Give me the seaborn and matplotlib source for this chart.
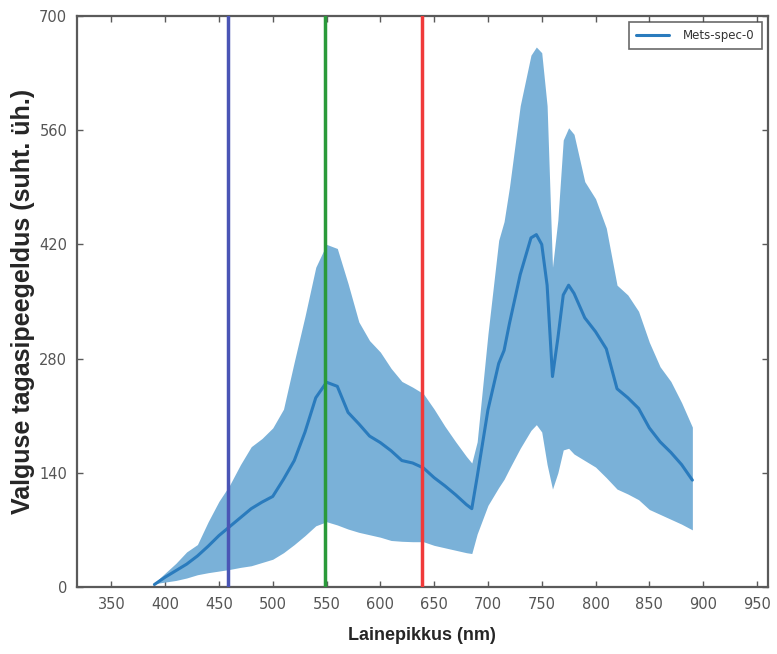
import matplotlib
matplotlib.use("Agg")
import matplotlib.pyplot as plt
import seaborn as sns
import pandas as pd

# Wavelength grid (nm) and reflectance statistics (relative units)
wavelength = [390, 400, 410, 420, 430, 440, 450, 460, 470, 480, 490, 500, 510, 520,
              530, 540, 550, 560, 570, 580, 590, 600, 610, 620, 630, 640, 650, 660,
              670, 680, 685, 690, 700, 710, 715, 720, 730, 740, 745, 750, 755, 760,
              765, 770, 775, 780, 790, 800, 810, 820, 830, 840, 850, 860, 870, 880, 890]
mean_refl = [3, 12, 20, 28, 38, 50, 63, 74, 85, 96, 104, 111, 132, 155,
             190, 232, 251, 246, 214, 200, 185, 177, 167, 155, 152, 146, 134, 124,
             113, 101, 96, 135, 217, 274, 290, 323, 383, 428, 432, 420, 370, 258,
             305, 358, 370, 360, 330, 313, 292, 243, 232, 219, 195, 178, 165, 150, 131]
upper_refl = [5, 17, 29, 43, 52, 80, 105, 125, 150, 172, 182, 195, 218, 276,
              332, 392, 420, 415, 372, 325, 302, 288, 268, 252, 245, 237, 218, 197,
              178, 160, 152, 178, 310, 425, 448, 490, 590, 652, 662, 655, 590, 392,
              450, 548, 563, 555, 497, 476, 440, 370, 358, 338, 300, 270, 252, 226, 196]
lower_refl = [4, 6, 8, 11, 15, 17.5, 19.5, 21.5, 24, 26, 30, 34, 42, 52,
              63, 75, 80, 76, 71, 67, 64, 61, 57, 56, 55.5, 55.5, 51, 48,
              45, 42, 41, 65, 100, 122, 132, 145, 170, 192, 199, 190, 150, 120,
              140, 168, 170, 163, 155, 147, 134, 120, 114, 107, 95, 89, 83, 77, 70]

# Band markers (nm)
band_lines = [458, 549, 639]
band_colors = ["#4a55b5", "#2a9a3a", "#f03a3a"]

series_name = "Mets-spec-0"

df = pd.DataFrame({"wavelength": wavelength, "mean": mean_refl,
                   "upper": upper_refl, "lower": lower_refl,
                   "series": series_name})

sns.set_style("ticks")
plt.rcParams["font.family"] = ["DejaVu Sans"]

fig = plt.figure(figsize=(7.77, 6.54), dpi=100)
ax = fig.add_axes([0.099, 0.1025, 0.889, 0.873])

ax.fill_between(df["wavelength"], df["lower"], df["upper"],
                color="#7ab1d8", alpha=1.0, linewidth=0, zorder=1)
sns.lineplot(data=df, x="wavelength", y="mean", hue="series",
             palette=["#2a7bbd"], linewidth=2.2, ax=ax, zorder=2)

for x, c in zip(band_lines, band_colors):
    ax.axvline(x, color=c, linewidth=2.5, zorder=3)

ax.set_xlim(318, 960)
ax.set_ylim(0, 700)
ax.set_xticks(list(range(350, 951, 50)))
ax.set_yticks([0, 140, 280, 420, 560, 700])

spine_color = "#5a5a5a"
for s in ax.spines.values():
    s.set_color(spine_color)
    s.set_linewidth(1.6)
ax.tick_params(direction="in", top=True, right=True, length=4, width=1,
               color=spine_color, labelcolor="#555555", labelsize=10.5, pad=7)

ax.set_xlabel("Lainepikkus (nm)", fontsize=13, fontweight="bold",
              family=["Liberation Sans", "DejaVu Sans"], labelpad=11)
ax.set_ylabel("Valguse tagasipeegeldus (suht. üh.)", fontsize=18, fontweight="bold",
              family=["Liberation Sans", "DejaVu Sans"], labelpad=3)

leg = ax.legend(loc="upper right", fontsize=8.5, frameon=True, fancybox=False,
                handlelength=2.8, handletextpad=1.2, borderpad=0.6,
                borderaxespad=0.5)
leg.get_frame().set_edgecolor("#444444")
leg.get_frame().set_linewidth(1.2)
for t in leg.get_texts():
    t.set_color("#333333")

fig.savefig("out.png", dpi=100)
